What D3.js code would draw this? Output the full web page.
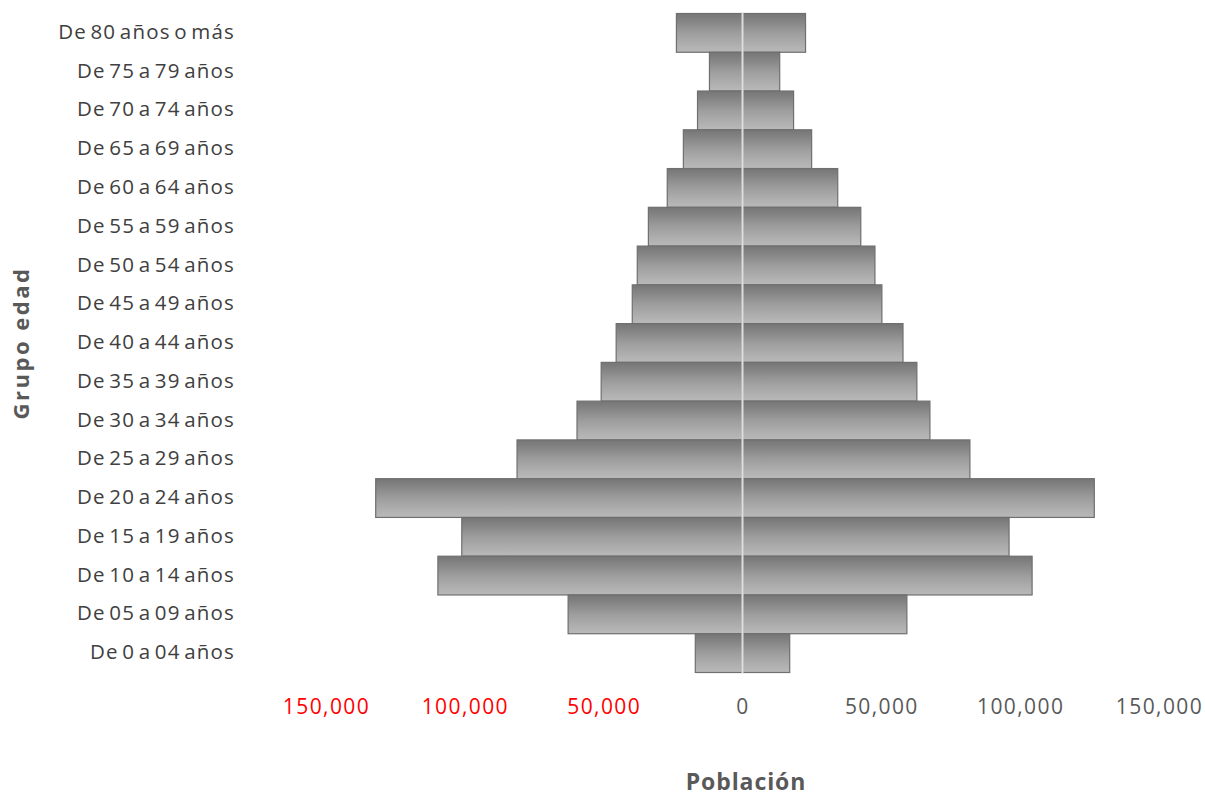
<!DOCTYPE html>
<html>
<head>
<meta charset="utf-8">
<script src="https://cdn.jsdelivr.net/npm/d3@7/dist/d3.min.js"></script>
<style>
  html, body { margin: 0; padding: 0; background: #fff; }
  svg { display: block; }
  text { font-family: "Open Sans", "DejaVu Sans", sans-serif; }
</style>
</head>
<body>
<svg id="chart" width="1205" height="797"></svg>
<script>
// Data (top of chart to bottom)
const categories = [
  "De 80 años o más", "De 75 a 79 años", "De 70 a 74 años", "De 65 a 69 años",
  "De 60 a 64 años", "De 55 a 59 años", "De 50 a 54 años", "De 45 a 49 años",
  "De 40 a 44 años", "De 35 a 39 años", "De 30 a 34 años", "De 25 a 29 años",
  "De 20 a 24 años", "De 15 a 19 años", "De 10 a 14 años", "De 05 a 09 años",
  "De 0 a 04 años"
];
const hombres = [23800, 11900, 16200, 21300, 27100, 33900, 37900, 39700, 45500, 50900, 59600, 81200, 132100, 101100, 109700, 62800, 17000];
const mujeres = [22700, 13400, 18400, 24900, 34300, 42600, 47700, 50200, 57800, 62800, 67500, 81900, 126700, 96000, 104300, 59200, 17000];
const tickValues = [-150000, -100000, -50000, 0, 50000, 100000, 150000];
const xTitle = "Población";
const yTitle = "Grupo edad";

const svg = d3.select("#chart");

const x = d3.scaleLinear().domain([-150000, 150000]).range([326, 1159]);
const y = d3.scaleBand().domain(categories).range([13, 672]).padding(0);

const defs = svg.append("defs");
const grad = defs.append("linearGradient").attr("id", "barGrad")
  .attr("x1", 0).attr("y1", 0).attr("x2", 0).attr("y2", 1);
[[0, "#767676"], [0.18, "#838383"], [0.5, "#9d9d9d"], [0.82, "#b0b0b0"], [1, "#b9b9b9"]]
  .forEach(([o, c]) => grad.append("stop").attr("offset", o).attr("stop-color", c));

const rows = categories.map((c, i) => ({ cat: c, h: hombres[i], m: mujeres[i] }));

const gBars = svg.append("g");
gBars.selectAll("rect.h").data(rows).join("rect")
  .attr("class", "h")
  .attr("x", d => x(-d.h))
  .attr("y", d => y(d.cat) + 0.5)
  .attr("width", d => x(0) - x(-d.h))
  .attr("height", y.bandwidth())
  .attr("fill", "url(#barGrad)")
  .attr("stroke", "#6f6f6f")
  .attr("stroke-width", 1.2);
gBars.selectAll("rect.m").data(rows).join("rect")
  .attr("class", "m")
  .attr("x", x(0))
  .attr("y", d => y(d.cat) + 0.5)
  .attr("width", d => x(d.m) - x(0))
  .attr("height", y.bandwidth())
  .attr("fill", "url(#barGrad)")
  .attr("stroke", "#6f6f6f")
  .attr("stroke-width", 1.2);

// centre line
svg.append("line")
  .attr("x1", x(0)).attr("x2", x(0))
  .attr("y1", y.range()[0]).attr("y2", y.range()[1] + 1)
  .attr("stroke", "#dedede").attr("stroke-width", 2);

// y axis labels
const yAxis = d3.axisLeft(y).tickSize(0).tickPadding(0);
const gy = svg.append("g").attr("transform", "translate(235,0)").call(yAxis);
gy.select(".domain").remove();
gy.selectAll("text")
  .attr("fill", "#404040")
  .style("font-size", "20.5px")
  .style("letter-spacing", "1.2px")
  .style("word-spacing", "-3px");

// x axis labels
const xAxis = d3.axisBottom(x).tickValues(tickValues).tickSize(0).tickPadding(0)
  .tickFormat(d => d3.format(",")(Math.abs(d)));
const gx = svg.append("g").attr("transform", "translate(0,0)").call(xAxis);
gx.select(".domain").remove();
gx.selectAll("text")
  .attr("y", 714).attr("dy", 0)
  .style("font-size", "21px")
  .style("letter-spacing", "1.4px")
  .attr("fill", d => d < 0 ? "#ff0000" : "#595959");

// titles
svg.append("text")
  .attr("x", 746).attr("y", 790)
  .attr("text-anchor", "middle")
  .attr("fill", "#595959")
  .style("font-size", "23px").style("font-weight", "bold")
  .style("letter-spacing", "0.9px")
  .text(xTitle);
svg.append("text")
  .attr("transform", "translate(29,343) rotate(-90)")
  .attr("text-anchor", "middle")
  .attr("fill", "#595959")
  .style("font-size", "22px").style("font-weight", "bold")
  .style("letter-spacing", "2.5px")
  .text(yTitle);
</script>
</body>
</html>
